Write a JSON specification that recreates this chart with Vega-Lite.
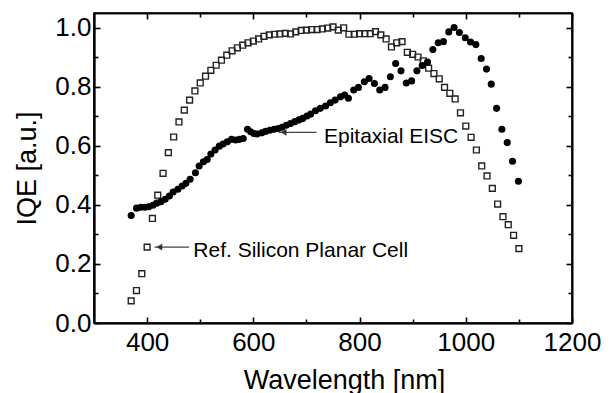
{
  "$schema": "https://vega.github.io/schema/vega-lite/v6.json",
  "width": 478,
  "height": 310,
  "autosize": {"type": "none"},
  "padding": {"left": 94, "top": 13, "right": 38, "bottom": 70},
  "config": {
    "view": {"stroke": "black", "strokeWidth": 1.6},
    "font": "Liberation Sans",
    "axis": {
      "domainColor": "black",
      "domainWidth": 1.6,
      "tickColor": "black",
      "tickWidth": 1.6,
      "grid": false,
      "labelColor": "black",
      "titleColor": "black",
      "labelFont": "Liberation Sans",
      "titleFont": "Liberation Sans",
      "labelFontSize": 26,
      "titleFontSize": 27,
      "titleFontWeight": "normal"
    }
  },
  "datasets": {
    "ref": [
      {"wl": 370, "iqe": 0.075}, {"wl": 380, "iqe": 0.110}, {"wl": 390, "iqe": 0.167}, {"wl": 400, "iqe": 0.257},
      {"wl": 410, "iqe": 0.354}, {"wl": 420, "iqe": 0.433}, {"wl": 430, "iqe": 0.507}, {"wl": 440, "iqe": 0.577},
      {"wl": 450, "iqe": 0.630}, {"wl": 460, "iqe": 0.681}, {"wl": 470, "iqe": 0.721}, {"wl": 480, "iqe": 0.755},
      {"wl": 490, "iqe": 0.786}, {"wl": 500, "iqe": 0.813}, {"wl": 510, "iqe": 0.836}, {"wl": 520, "iqe": 0.856},
      {"wl": 530, "iqe": 0.873}, {"wl": 540, "iqe": 0.890}, {"wl": 550, "iqe": 0.907}, {"wl": 560, "iqe": 0.922},
      {"wl": 570, "iqe": 0.932}, {"wl": 580, "iqe": 0.941}, {"wl": 590, "iqe": 0.949}, {"wl": 600, "iqe": 0.955},
      {"wl": 610, "iqe": 0.962}, {"wl": 620, "iqe": 0.971}, {"wl": 630, "iqe": 0.976}, {"wl": 640, "iqe": 0.978},
      {"wl": 650, "iqe": 0.979}, {"wl": 660, "iqe": 0.981}, {"wl": 670, "iqe": 0.979}, {"wl": 680, "iqe": 0.986},
      {"wl": 690, "iqe": 0.991}, {"wl": 700, "iqe": 0.992}, {"wl": 710, "iqe": 0.994}, {"wl": 720, "iqe": 0.994},
      {"wl": 730, "iqe": 0.996}, {"wl": 740, "iqe": 0.999}, {"wl": 750, "iqe": 1.003}, {"wl": 760, "iqe": 0.992},
      {"wl": 770, "iqe": 1.000}, {"wl": 780, "iqe": 0.978}, {"wl": 790, "iqe": 0.978}, {"wl": 800, "iqe": 0.980},
      {"wl": 810, "iqe": 0.980}, {"wl": 820, "iqe": 0.980}, {"wl": 830, "iqe": 0.987}, {"wl": 840, "iqe": 0.976},
      {"wl": 850, "iqe": 0.962}, {"wl": 860, "iqe": 0.935}, {"wl": 870, "iqe": 0.949}, {"wl": 880, "iqe": 0.953},
      {"wl": 890, "iqe": 0.917}, {"wl": 900, "iqe": 0.910}, {"wl": 910, "iqe": 0.901}, {"wl": 920, "iqe": 0.888},
      {"wl": 930, "iqe": 0.863}, {"wl": 940, "iqe": 0.845}, {"wl": 950, "iqe": 0.827}, {"wl": 960, "iqe": 0.798},
      {"wl": 970, "iqe": 0.778}, {"wl": 980, "iqe": 0.759}, {"wl": 990, "iqe": 0.712}, {"wl": 1000, "iqe": 0.667},
      {"wl": 1010, "iqe": 0.629}, {"wl": 1020, "iqe": 0.586}, {"wl": 1030, "iqe": 0.532}, {"wl": 1040, "iqe": 0.498},
      {"wl": 1050, "iqe": 0.456}, {"wl": 1060, "iqe": 0.403}, {"wl": 1070, "iqe": 0.360}, {"wl": 1080, "iqe": 0.333},
      {"wl": 1090, "iqe": 0.297}, {"wl": 1100, "iqe": 0.252}
    ],
    "epi": [
      {"wl": 370, "iqe": 0.364}, {"wl": 380, "iqe": 0.389}, {"wl": 388, "iqe": 0.392}, {"wl": 396, "iqe": 0.392},
      {"wl": 403, "iqe": 0.394}, {"wl": 411, "iqe": 0.399}, {"wl": 418, "iqe": 0.406}, {"wl": 426, "iqe": 0.411},
      {"wl": 434, "iqe": 0.419}, {"wl": 442, "iqe": 0.430}, {"wl": 449, "iqe": 0.444}, {"wl": 458, "iqe": 0.453},
      {"wl": 466, "iqe": 0.464}, {"wl": 473, "iqe": 0.473}, {"wl": 481, "iqe": 0.487}, {"wl": 491, "iqe": 0.509},
      {"wl": 498, "iqe": 0.532}, {"wl": 506, "iqe": 0.546}, {"wl": 513, "iqe": 0.554}, {"wl": 520, "iqe": 0.572},
      {"wl": 528, "iqe": 0.586}, {"wl": 536, "iqe": 0.599}, {"wl": 543, "iqe": 0.606}, {"wl": 551, "iqe": 0.614},
      {"wl": 559, "iqe": 0.622}, {"wl": 567, "iqe": 0.620}, {"wl": 574, "iqe": 0.622}, {"wl": 581, "iqe": 0.625},
      {"wl": 589, "iqe": 0.656}, {"wl": 595, "iqe": 0.648}, {"wl": 601, "iqe": 0.642}, {"wl": 607, "iqe": 0.640},
      {"wl": 616, "iqe": 0.644}, {"wl": 623, "iqe": 0.649}, {"wl": 631, "iqe": 0.653}, {"wl": 639, "iqe": 0.656},
      {"wl": 647, "iqe": 0.659}, {"wl": 654, "iqe": 0.663}, {"wl": 662, "iqe": 0.670}, {"wl": 670, "iqe": 0.676},
      {"wl": 678, "iqe": 0.682}, {"wl": 686, "iqe": 0.688}, {"wl": 693, "iqe": 0.693}, {"wl": 701, "iqe": 0.701},
      {"wl": 708, "iqe": 0.708}, {"wl": 717, "iqe": 0.719}, {"wl": 726, "iqe": 0.727}, {"wl": 736, "iqe": 0.735},
      {"wl": 745, "iqe": 0.746}, {"wl": 754, "iqe": 0.755}, {"wl": 764, "iqe": 0.766}, {"wl": 772, "iqe": 0.772},
      {"wl": 779, "iqe": 0.761}, {"wl": 789, "iqe": 0.789}, {"wl": 798, "iqe": 0.798}, {"wl": 809, "iqe": 0.817},
      {"wl": 818, "iqe": 0.828}, {"wl": 828, "iqe": 0.811}, {"wl": 838, "iqe": 0.789}, {"wl": 848, "iqe": 0.798},
      {"wl": 858, "iqe": 0.834}, {"wl": 868, "iqe": 0.879}, {"wl": 878, "iqe": 0.854}, {"wl": 888, "iqe": 0.813},
      {"wl": 898, "iqe": 0.820}, {"wl": 908, "iqe": 0.854}, {"wl": 918, "iqe": 0.872}, {"wl": 928, "iqe": 0.884},
      {"wl": 938, "iqe": 0.926}, {"wl": 948, "iqe": 0.949}, {"wl": 958, "iqe": 0.953}, {"wl": 968, "iqe": 0.986},
      {"wl": 978, "iqe": 1.001}, {"wl": 988, "iqe": 0.984}, {"wl": 999, "iqe": 0.966}, {"wl": 1009, "iqe": 0.952},
      {"wl": 1019, "iqe": 0.943}, {"wl": 1029, "iqe": 0.896}, {"wl": 1039, "iqe": 0.860}, {"wl": 1048, "iqe": 0.809},
      {"wl": 1058, "iqe": 0.727}, {"wl": 1068, "iqe": 0.656}, {"wl": 1078, "iqe": 0.611}, {"wl": 1088, "iqe": 0.548},
      {"wl": 1099, "iqe": 0.480}
    ],
    "arrows": [
      {"tip": 648, "tail": 719, "head": 657, "y": 0.646},
      {"tip": 414, "tail": 479, "head": 423, "y": 0.257}
    ],
    "notes": [
      {"wl": 733, "y": 0.608, "label": "Epitaxial EISC"},
      {"wl": 487, "y": 0.222, "label": "Ref. Silicon Planar Cell"}
    ]
  },
  "resolve": {"axis": {"x": "independent", "y": "independent"}},
  "layer": [
    {
      "data": {"name": "ref"},
      "mark": {"type": "point", "shape": "square", "filled": false, "stroke": "#222222", "strokeWidth": 1.4, "size": 34, "opacity": 1},
      "encoding": {
        "x": {"field": "wl", "type": "quantitative", "scale": {"domain": [300, 1200], "nice": false, "zero": false},
          "axis": {"orient": "bottom", "values": [400, 600, 800, 1000, 1200], "format": "d", "ticks": false, "tickSize": 0, "labelPadding": 27, "labelBaseline": "alphabetic", "title": "Wavelength [nm]", "titleX": 250, "titleY": 65, "titleBaseline": "alphabetic", "labelFlush": false}},
        "y": {"field": "iqe", "type": "quantitative", "scale": {"domain": [0, 1.05], "nice": false, "zero": false},
          "axis": {"orient": "left", "values": [0, 0.2, 0.4, 0.6, 0.8, 1.0], "format": ".1f", "ticks": false, "tickSize": 0, "labelPadding": 3, "labelBaseline": "middle", "title": "IQE [a.u.]", "titleX": -59, "titleY": 155, "titleBaseline": "alphabetic", "titleAngle": -90, "labelFlush": false}}
      }
    },
    {
      "data": {"name": "epi"},
      "mark": {"type": "circle", "size": 50, "color": "black", "opacity": 1},
      "encoding": {
        "x": {"field": "wl", "type": "quantitative", "axis": {"orient": "top", "values": [400, 600, 800, 1000, 1200], "labels": false, "tickSize": -6, "title": null}},
        "y": {"field": "iqe", "type": "quantitative", "axis": {"orient": "right", "values": [0, 0.2, 0.4, 0.6, 0.8, 1.0], "labels": false, "tickSize": -6, "title": null}}
      }
    },
    {
      "data": {"name": "arrows"},
      "mark": {"type": "rule", "color": "#444444", "strokeWidth": 1.2},
      "encoding": {
        "x": {"field": "tip", "type": "quantitative", "axis": {"orient": "bottom", "values": [400, 600, 800, 1000, 1200], "labels": false, "tickSize": -6, "title": null}},
        "x2": {"field": "tail"},
        "y": {"field": "y", "type": "quantitative", "axis": {"orient": "left", "values": [0, 0.2, 0.4, 0.6, 0.8, 1.0], "labels": false, "tickSize": -6, "title": null}}
      }
    },
    {
      "data": {"name": "arrows"},
      "mark": {"type": "point", "shape": "triangle-left", "filled": true, "color": "#333333", "size": 45, "opacity": 1},
      "encoding": {
        "x": {"field": "head", "type": "quantitative", "axis": {"orient": "bottom", "values": [500, 700, 900, 1100], "labels": false, "tickSize": -4, "title": null}},
        "y": {"field": "y", "type": "quantitative", "axis": {"orient": "left", "values": [0.1, 0.3, 0.5, 0.7, 0.9], "labels": false, "tickSize": -4, "title": null}}
      }
    },
    {
      "data": {"name": "notes"},
      "mark": {"type": "text", "align": "left", "baseline": "alphabetic", "fontSize": 21, "font": "Liberation Sans", "color": "black"},
      "encoding": {
        "x": {"field": "wl", "type": "quantitative", "axis": {"orient": "top", "values": [500, 700, 900, 1100], "labels": false, "tickSize": -4, "title": null}},
        "y": {"field": "y", "type": "quantitative", "axis": {"orient": "right", "values": [0.1, 0.3, 0.5, 0.7, 0.9], "labels": false, "tickSize": -4, "title": null}},
        "text": {"field": "label"}
      }
    }
  ]
}
